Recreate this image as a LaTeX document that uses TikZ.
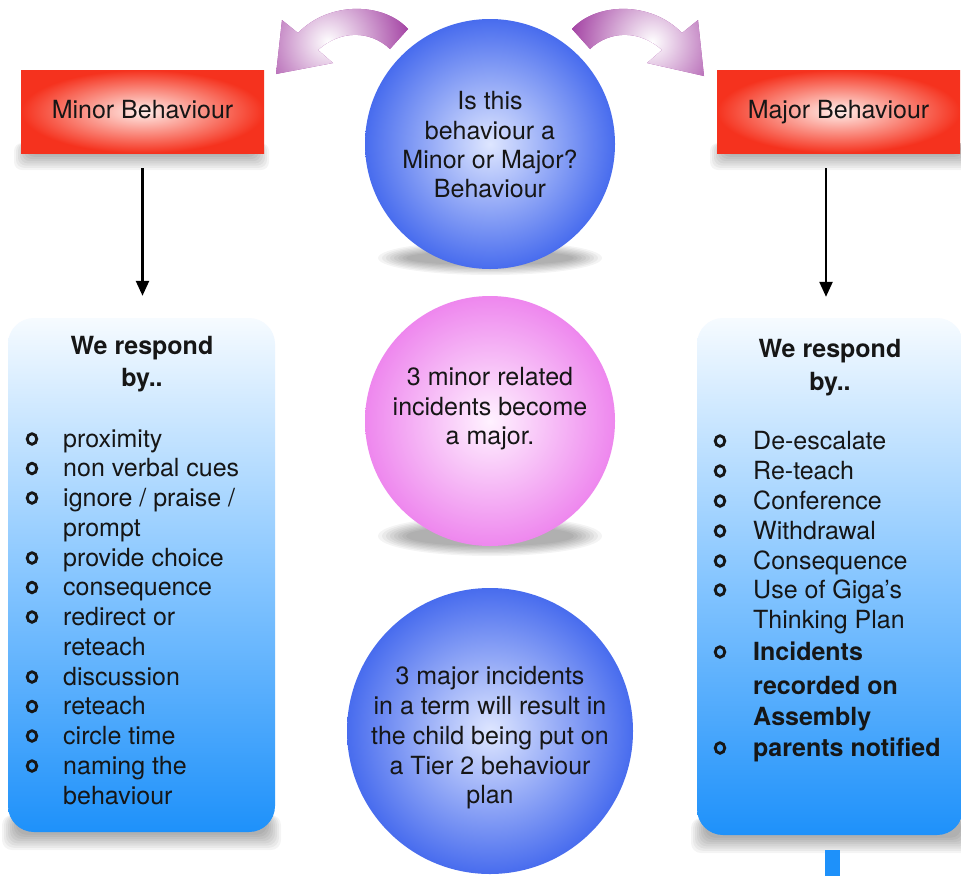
\documentclass[tikz,border=0pt]{standalone}
\usepackage{fontspec}
\setmainfont{TeX Gyre Heros}
\usetikzlibrary{arrows.meta}
\definecolor{redout}{RGB}{245,50,30}
\definecolor{redin}{RGB}{255,238,234}
\definecolor{bluetop}{RGB}{246,251,255}
\definecolor{bluemid}{RGB}{135,198,255}
\definecolor{bluebot}{RGB}{30,145,250}
\definecolor{circblue}{RGB}{72,108,238}
\definecolor{circbluein}{RGB}{222,230,255}
\definecolor{pinkout}{RGB}{238,135,238}
\definecolor{pinkin}{RGB}{255,242,255}
\definecolor{arrowpurple}{RGB}{160,60,160}
\definecolor{txt}{RGB}{22,22,22}
\tikzset{
  redbox/.style={rectangle, inner color=redin, outer color=redout, minimum width=243, minimum height=83,
    font=\fontsize{25}{30}\selectfont, text=txt, text height=18pt, text depth=5pt},
  bluebox/.style={rectangle, rounded corners=26pt, top color=bluetop, bottom color=bluebot, middle color=bluemid},
  bluecirc/.style={circle, inner color=circbluein, outer color=circblue},
  pinkcirc/.style={circle, inner color=pinkin, outer color=pinkout},
  softshade/.style={fill=black, opacity=0.045},
  line/.style={anchor=base, inner sep=0pt, font=\fontsize{25}{30}\selectfont, text=txt},
  head/.style={line, font=\fontsize{25}{30}\selectfont\bfseries},
  item/.style={anchor=base west, inner sep=0pt, font=\fontsize{25}{30}\selectfont, text=txt},
  bitem/.style={item, font=\fontsize{25}{30}\selectfont\bfseries},
  ring/.style={draw=txt, line width=2.8pt},
  conn/.style={draw=black, line width=2.4pt, -{Triangle[length=15pt,width=13pt]}},
  purplearrow/.style={fill=arrowpurple}
}
\begin{document}
\begin{tikzpicture}[x=1pt,y=-1pt]
\useasboundingbox (0,0) rectangle (961,876);
\fill[white] (0,0) rectangle (961,876);

% soft shadows under the shapes
\foreach \k in {0,...,7} {
  \fill[softshade, rounded corners=8pt] (14+2*\k,143) rectangle (269-2*\k,{170-2.2*\k});
  \fill[softshade, rounded corners=8pt] (710+2*\k,143) rectangle (975-2*\k,{170-2.2*\k});
  \fill[softshade, rounded corners=10pt] (2+2*\k,815) rectangle (281-2*\k,{850-2.2*\k});
  \fill[softshade, rounded corners=10pt] (691+2*\k,818) rectangle (975-2*\k,{853-2.2*\k});
  \fill[softshade] (490,258) ellipse ({112-4*\k} and {17-1.4*\k});
  \fill[softshade] (490,536) ellipse ({112-4*\k} and {20-1.4*\k});
}

% purple curved arrows
\path[purplearrow, path picture={\shade[inner color=white, outer color=arrowpurple] (328,42) circle (85);}]
  (408,29) .. controls (385,3) and (330,0) .. (298,33) -- (282,20) -- (276,74) -- (333,63) -- (318,50)
  .. controls (340,30) and (370,30) .. (390,49) -- cycle;
\path[purplearrow, path picture={\shade[inner color=white, outer color=arrowpurple] (652,42) circle (85);}]
  (572,29) .. controls (595,3) and (650,0) .. (682,33) -- (698,20) -- (704,76) -- (647,63) -- (662,50)
  .. controls (640,30) and (610,30) .. (590,49) -- cycle;

% red boxes
\node[redbox] (minor) at (142.5,111.5) {Minor Behaviour};
\node[redbox] (major) at (838.5,111.5) {Major Behaviour};

% circles
\node[bluecirc, minimum size=250] (q) at (490,144) {};
\node[pinkcirc, minimum size=250] (p) at (490,421) {};
\node[bluecirc, minimum size=286] (t) at (490,731) {};

% blue boxes
\node[bluebox, minimum width=267, minimum height=514] (lbox) at (141.5,575) {};
\node[bluebox, minimum width=266, minimum height=517] (rbox) at (830,576.5) {};

% stub below right box
\fill[bluebot] (825,850) rectangle (840,876);

% arrows
\draw[conn, shorten <=15pt, shorten >=22pt] (minor.south) -- (minor.south |- lbox.north);
\draw[conn, shorten <=15pt, shorten >=21pt] (major.south -| 826,0) -- (rbox.north -| 826,0);

% circle texts
\node[line] (q1) at (490,109) {Is this};
\node[line] (q2) at (490,139) {behaviour a};
\node[line] (q3) at (490,168) {Minor or Major?};
\node[line] (q4) at (490,197) {Behaviour};

\node[line] (p1) at (490,385) {3 minor related};
\node[line] (p2) at (490,415) {incidents become};
\node[line] (p3) at (490,444) {a major.};

\node[line] (t1) at (490,684) {3 major incidents};
\node[line] (t2) at (490,714) {in a term will result in};
\node[line] (t3) at (490,744) {the child being put on};
\node[line] (t4) at (490,774) {a Tier 2 behaviour};
\node[line] (t5) at (490,803) {plan};

% left list
\node[head] (lh1) at (142,354) {We respond};
\node[head] (lh2) at (142,386) {by..};
\node[item] (a1) at (63,447) {proximity};
\node[item] (a2) at (63,476.5) {non verbal cues};
\node[item] (a3) at (63,506) {ignore / praise /};
\node[item] (a4) at (63,536) {prompt};
\node[item] (a5) at (63,566) {provide choice};
\node[item] (a6) at (63,595.5) {consequence};
\node[item] (a7) at (63,625) {redirect or};
\node[item] (a8) at (63,655) {reteach};
\node[item] (a9) at (63,685) {discussion};
\node[item] (a10) at (63,714.5) {reteach};
\node[item] (a11) at (63,744) {circle time};
\node[item] (a12) at (63,774) {naming the};
\node[item] (a13) at (63,804) {behaviour};
\foreach \y in {447,476.5,506,566,595.5,625,685,714.5,744,774}
  \draw[ring] (32,\y-8) ellipse (4.8 and 5.3);

% right list
\node[head] (rh1) at (830,357) {We respond};
\node[head] (rh2) at (830,390) {by..};
\node[item] (b1) at (753,449) {De-escalate};
\node[item] (b2) at (753,479) {Re-teach};
\node[item] (b3) at (753,509) {Conference};
\node[item] (b4) at (753,539) {Withdrawal};
\node[item] (b5) at (753,569) {Consequence};
\node[item] (b6) at (753,598) {Use of Giga’s};
\node[item] (b7) at (753,628) {Thinking Plan};
\node[bitem] (b8) at (753,660) {Incidents};
\node[bitem] (b9) at (753,694) {recorded on};
\node[bitem] (b10) at (753,725) {Assembly};
\node[bitem] (b11) at (753,756) {parents notified};
\foreach \y in {449,479,509,539,569,598,660,756}
  \draw[ring] (720,\y-8) ellipse (4.8 and 5.3);
\end{tikzpicture}
\end{document}
